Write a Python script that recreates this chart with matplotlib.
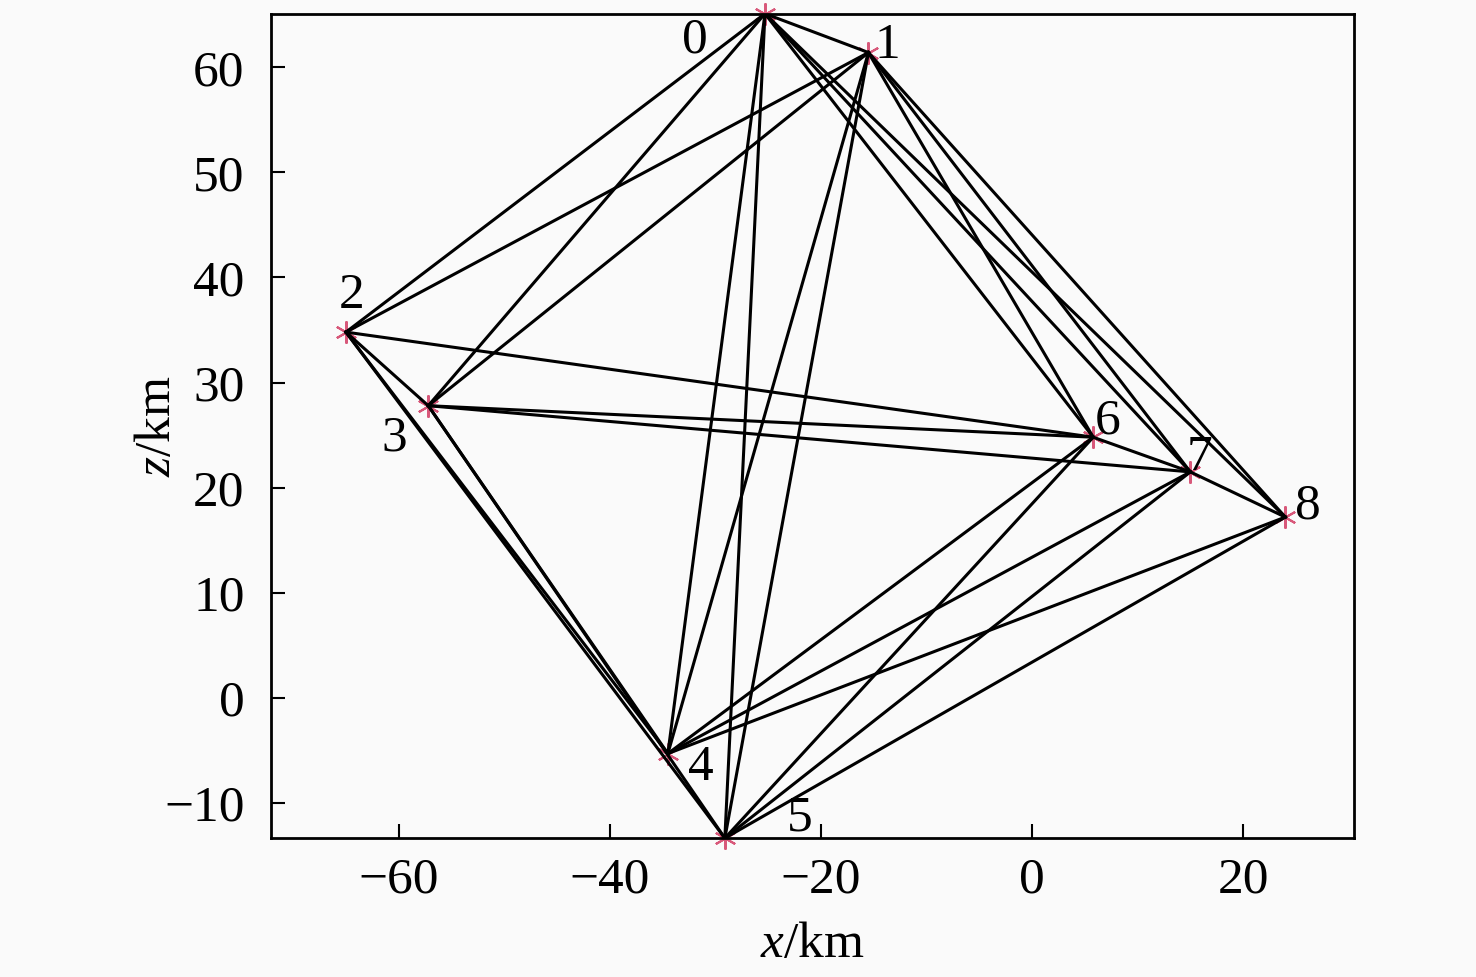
import matplotlib
matplotlib.use("Agg")
import matplotlib.pyplot as plt

plt.rcParams['font.family'] = ['Liberation Serif', 'DejaVu Serif']
plt.rcParams['mathtext.fontset'] = 'custom'
plt.rcParams['mathtext.it'] = 'Liberation Serif:italic'
plt.rcParams['mathtext.rm'] = 'Liberation Serif'

# station coordinates (km)
node_x = [-25.3, -15.5, -65.0, -57.2, -34.5, -29.1, 5.8, 15.0, 24.0]
node_z = [65.1, 61.4, 34.8, 27.8, -5.3, -13.35, 24.8, 21.5, 17.2]
node_names = ['0', '1', '2', '3', '4', '5', '6', '7', '8']

# ray paths between stations
edges = [
    (0, 1), (0, 2), (0, 3), (0, 4), (0, 5), (0, 6), (0, 7), (0, 8),
    (1, 2), (1, 3), (1, 4), (1, 5), (1, 6), (1, 7), (1, 8),
    (2, 3), (2, 4), (2, 5), (2, 6),
    (3, 4), (3, 5), (3, 6), (3, 7),
    (4, 6), (4, 7), (4, 8),
    (5, 6), (5, 7), (5, 8),
    (6, 7), (7, 8),
]

x_ticks = [-60, -40, -20, 0, 20]
z_ticks = [-10, 0, 10, 20, 30, 40, 50, 60]

# label offsets in pixels from each marker
label_off = [(-70, -27), (19, 7), (6, 36), (-34, -33), (33, -14),
             (75, 20), (14, 16), (9, 14), (23, 11)]

fig = plt.figure(figsize=(14.76, 9.77), dpi=100, facecolor='#fafafa')
ax = fig.add_axes([0.1836, 0.1423, 0.7337, 0.8434])
ax.set_facecolor('#fafafa')

for a, b in edges:
    ax.plot([node_x[a], node_x[b]], [node_z[a], node_z[b]],
            color='black', lw=2.2, zorder=2)

ax.plot(node_x, node_z, ls='none', marker=(6, 2, 0), ms=16, color='#d8587a',
        mew=1.5, zorder=1, clip_on=False)

for i, name in enumerate(node_names):
    ax.annotate(name, (node_x[i], node_z[i]), xytext=label_off[i],
                textcoords='offset pixels', ha='center', va='center',
                fontsize=37, annotation_clip=False)

ax.set_xlim(-72.1, 30.5)
ax.set_ylim(-13.33, 65.07)
ax.set_xticks(x_ticks)
ax.set_yticks(z_ticks)
ax.tick_params(direction='in', length=10, width=1.5, labelsize=37)
ax.tick_params(axis='x', pad=14)
ax.tick_params(axis='y', pad=19)
for s in ax.spines.values():
    s.set_linewidth(2)

ax.set_xlabel('$x$/km', fontsize=37, labelpad=13)
ax.set_ylabel('$z$/km', fontsize=37, labelpad=-12)

fig.savefig('out.png', dpi=100, facecolor=fig.get_facecolor())
